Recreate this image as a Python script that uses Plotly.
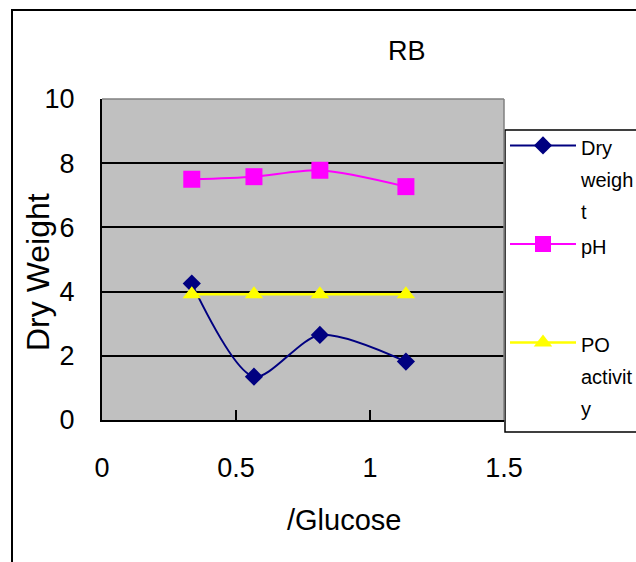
import plotly.graph_objects as go

# Glucose concentration (x) and the three measured series
glucose = [0.335, 0.567, 0.813, 1.134]
dry_weight = [4.25, 1.35, 2.65, 1.82]
ph = [7.50, 7.58, 7.78, 7.27]
po_activity = [3.92, 3.92, 3.92, 3.92]

series_names = ["Dry<br>weigh<br>t", "pH<br>\u00a0<br>\u00a0", "PO<br>activit<br>y"]
x_ticks = [0, 0.5, 1, 1.5]
x_tick_text = ["0", "0.5", "1", "1.5"]
y_ticks = [0, 2, 4, 6, 8, 10]

FONT = "Liberation Sans, Arial, sans-serif"


def legend_label(text, size=20):
    # wrap every line in its own span so the base legend font sets the line height
    return "<br>".join(f"<span style='font-size:{size}px'>{part}</span>" for part in text.split("<br>"))


fig = go.Figure()
fig.add_trace(go.Scatter(
    x=glucose, y=dry_weight, name=legend_label(series_names[0]),
    mode="lines+markers", line=dict(color="#000080", width=2, shape="spline", smoothing=0.8),
    marker=dict(symbol="diamond", size=14, color="#000080"),
))
fig.add_trace(go.Scatter(
    x=glucose, y=ph, name=legend_label(series_names[1]),
    mode="lines+markers", line=dict(color="#FF00FF", width=2, shape="spline", smoothing=0.8),
    marker=dict(symbol="square", size=17, color="#FF00FF"),
))
fig.add_trace(go.Scatter(
    x=glucose, y=po_activity, name=legend_label(series_names[2]),
    mode="lines+markers", line=dict(color="#FFFF00", width=2.5, shape="spline", smoothing=0.8),
    marker=dict(symbol="triangle-up", size=16, color="#FFFF00"),
))

L, R, T, B = 102, 504, 99, 420
W, H = 636, 562


def px_x(p):
    return (p - L) / (R - L)


def px_y(p):
    return (B - p) / (B - T)


fig.update_layout(
    width=W, height=H,
    margin=dict(l=L, r=W - R, t=T, b=H - B, autoexpand=False),
    paper_bgcolor="white",
    plot_bgcolor="#C0C0C0",
    font=dict(family=FONT, color="black", size=26),
    showlegend=True,
    legend=dict(
        x=px_x(505), y=px_y(123), xanchor="left", yanchor="top",
        bgcolor="rgba(0,0,0,0)", borderwidth=0,
        font=dict(family=FONT, size=24.5, color="black"),
        valign="top", itemwidth=66, tracegroupgap=0,
    ),
    xaxis=dict(
        range=[0, 1.5], tickvals=x_ticks, ticktext=x_tick_text,
        showgrid=False, zeroline=False,
        showline=True, linecolor="black", linewidth=2,
        ticks="inside", ticklen=10, tickwidth=1.5, tickcolor="black",
        tickfont=dict(family=FONT, size=27, color="black"),
        ticklabelstandoff=23,
    ),
    yaxis=dict(
        range=[0, 10], tickvals=y_ticks,
        showgrid=True, gridcolor="black", gridwidth=1.5,
        zeroline=False,
        showline=True, linecolor="black", linewidth=2,
        ticks="inside", ticklen=8, tickwidth=1.5, tickcolor="black",
        tickfont=dict(family=FONT, size=27, color="black"),
        ticklabelstandoff=20,
    ),
    shapes=[
        # gray frame on top and right of the plotting area
        dict(type="line", xref="paper", yref="paper", x0=0, x1=1, y0=1, y1=1,
             line=dict(color="#808080", width=1.5), layer="above"),
        dict(type="line", xref="paper", yref="paper", x0=1, x1=1, y0=0, y1=1,
             line=dict(color="#808080", width=1.5), layer="above"),
        # legend frame
        dict(type="rect", xref="paper", yref="paper",
             x0=px_x(505), x1=px_x(700), y0=px_y(432), y1=px_y(130),
             line=dict(color="black", width=1.5), fillcolor="rgba(0,0,0,0)", layer="below"),
        # outer chart border
        dict(type="rect", xref="paper", yref="paper",
             x0=px_x(12), x1=px_x(700), y0=px_y(620), y1=px_y(10),
             line=dict(color="black", width=2), fillcolor="rgba(0,0,0,0)", layer="below"),
    ],
    annotations=[
        dict(text="RB", xref="paper", yref="paper", x=px_x(407), y=px_y(51),
             showarrow=False, xanchor="center", yanchor="middle",
             font=dict(family=FONT, size=27, color="black")),
        dict(text="/Glucose", xref="paper", yref="paper", x=px_x(344), y=px_y(520),
             showarrow=False, xanchor="center", yanchor="middle",
             font=dict(family=FONT, size=29, color="black")),
        dict(text="Dry Weight", xref="paper", yref="paper", x=px_x(38), y=px_y(272),
             showarrow=False, xanchor="center", yanchor="middle", textangle=-90,
             font=dict(family=FONT, size=32, color="black")),
    ],
)

fig.write_html("out.html")
